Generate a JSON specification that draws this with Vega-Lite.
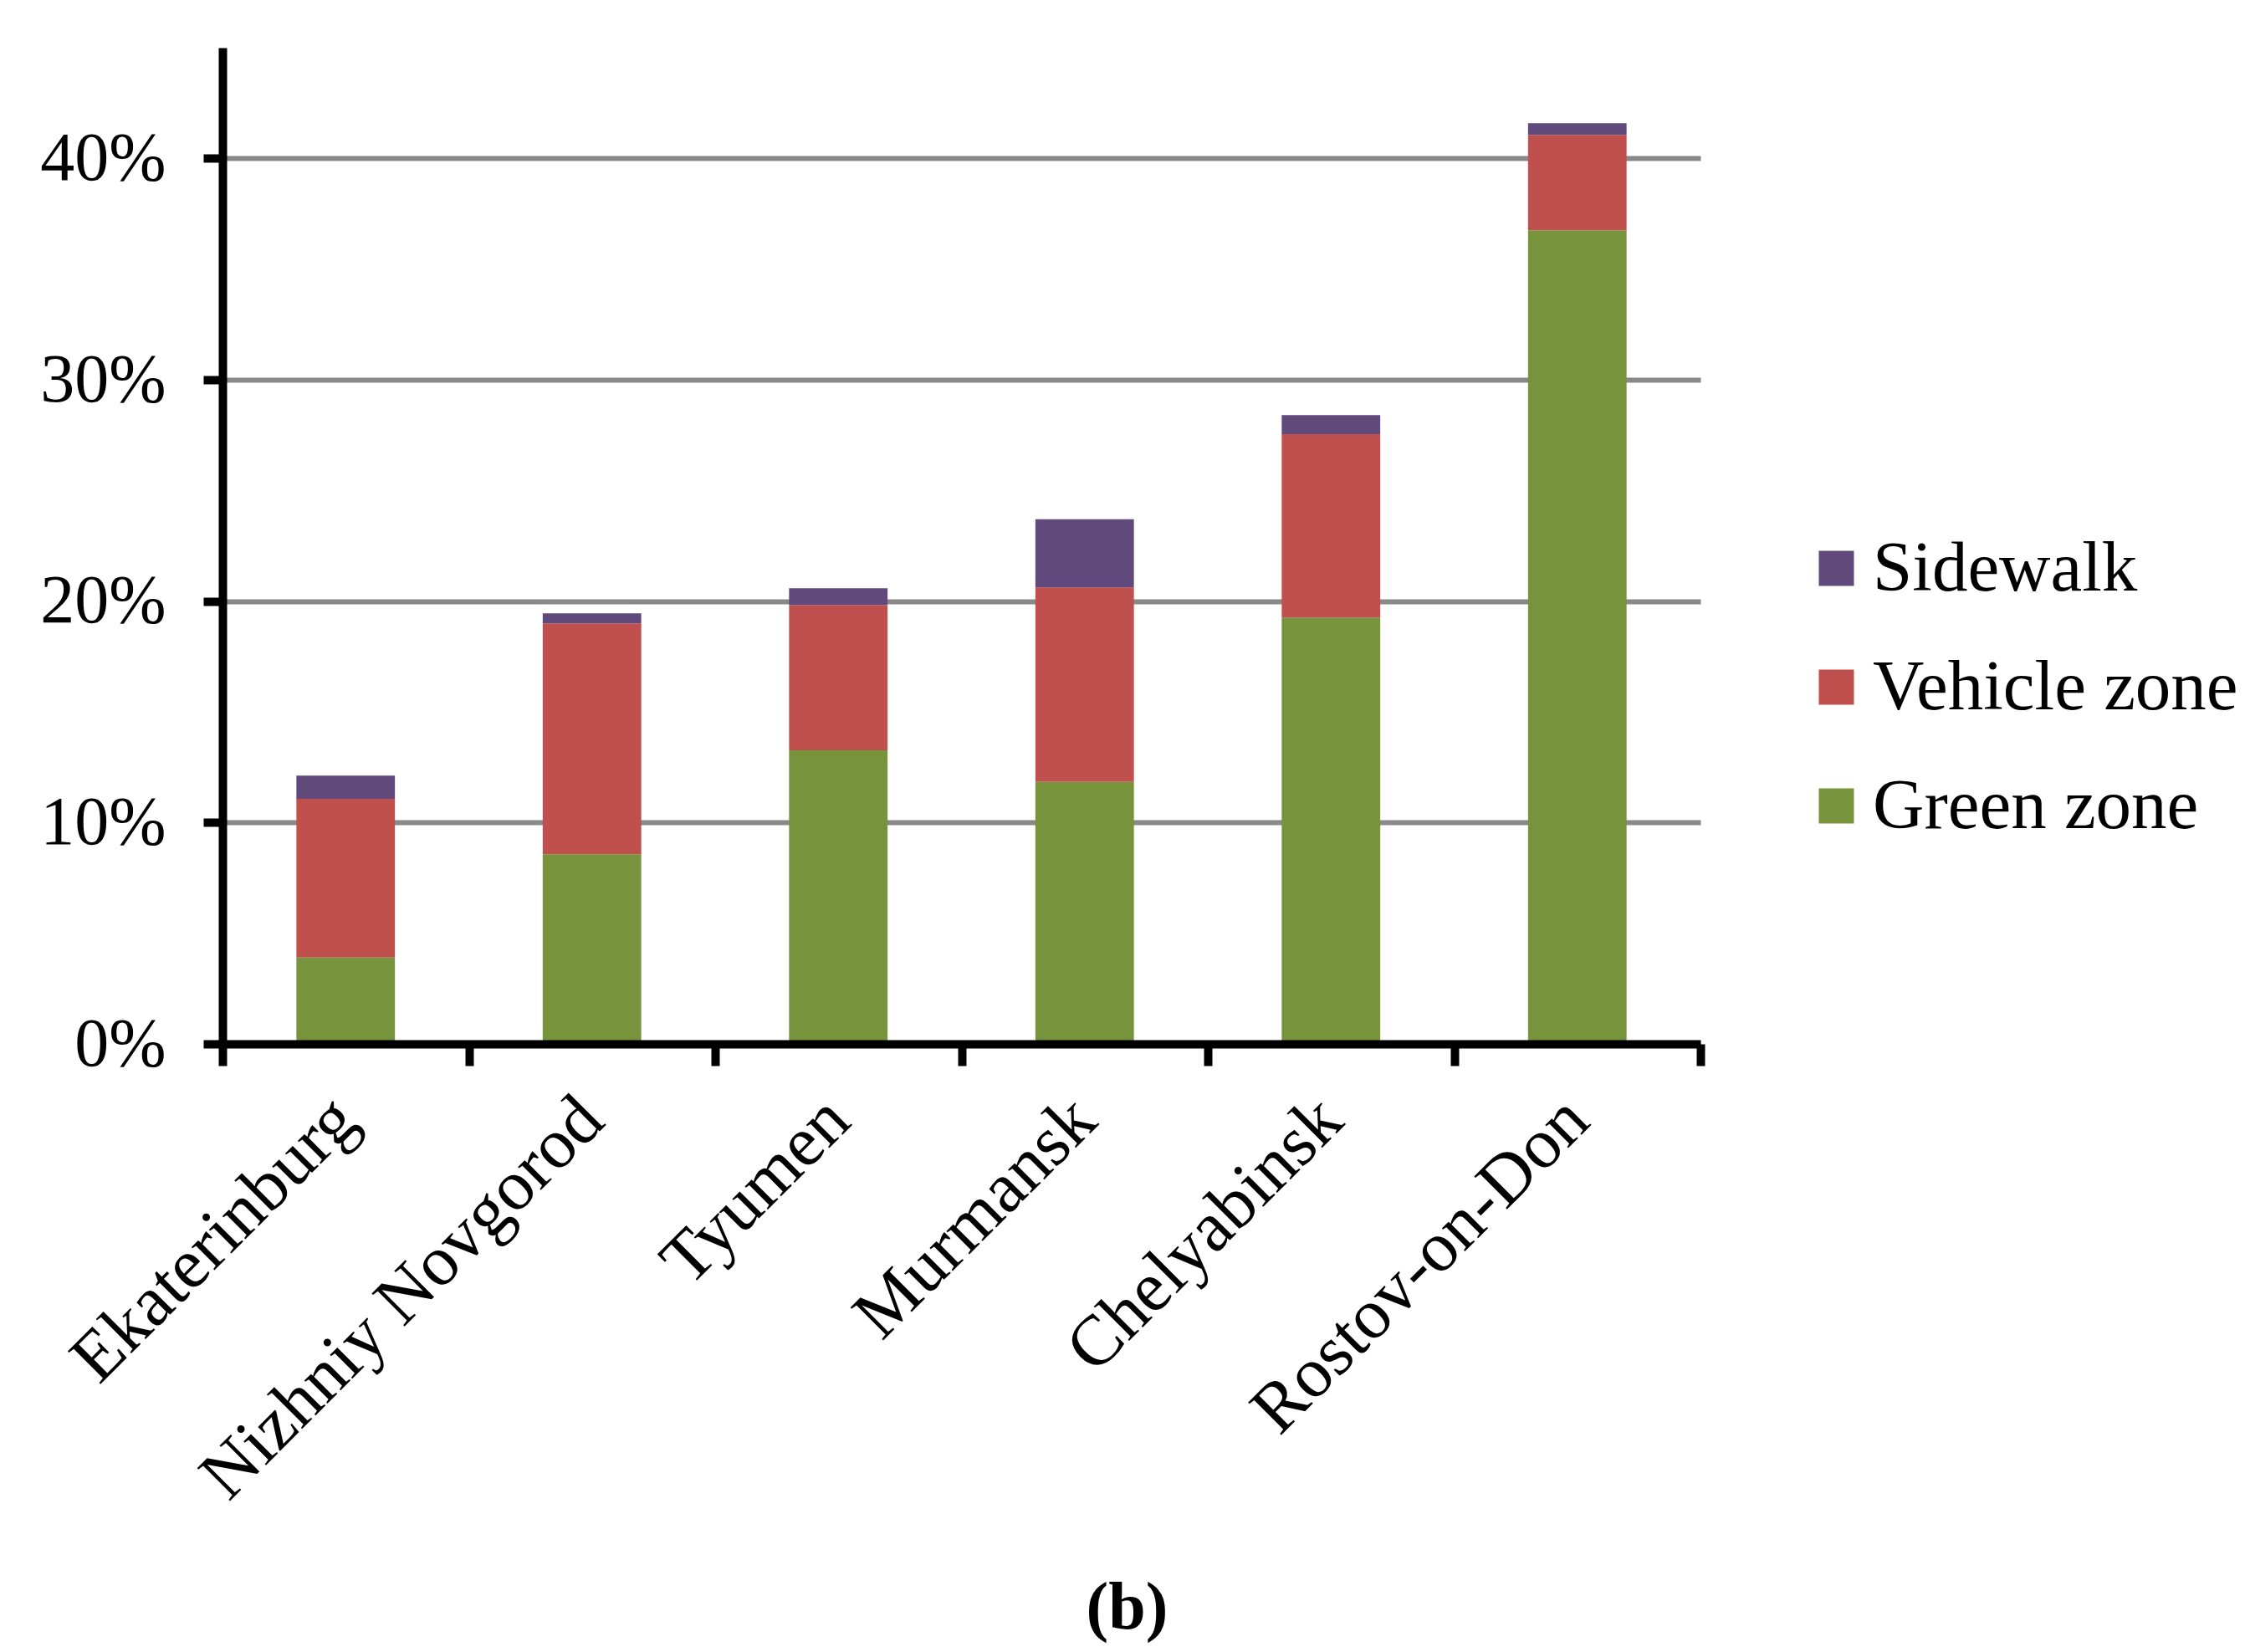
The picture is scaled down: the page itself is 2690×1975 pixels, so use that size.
{
  "$schema": "https://vega.github.io/schema/vega-lite/v6.json",
  "width": 1767,
  "height": 1191,
  "autosize": "none",
  "padding": {"left": 266, "top": 57, "right": 657, "bottom": 727},
  "config": {"font": "Liberation Serif", "view": {"stroke": null}},
  "data": {
    "values": [
      {"city": "Ekaterinburg", "zone": "Green zone", "o": 1, "share": 0.039},
      {"city": "Ekaterinburg", "zone": "Vehicle zone", "o": 2, "share": 0.0717},
      {"city": "Ekaterinburg", "zone": "Sidewalk", "o": 3, "share": 0.0105},
      {"city": "Nizhniy Novgorod", "zone": "Green zone", "o": 1, "share": 0.0857},
      {"city": "Nizhniy Novgorod", "zone": "Vehicle zone", "o": 2, "share": 0.1043},
      {"city": "Nizhniy Novgorod", "zone": "Sidewalk", "o": 3, "share": 0.0045},
      {"city": "Tyumen", "zone": "Green zone", "o": 1, "share": 0.1326},
      {"city": "Tyumen", "zone": "Vehicle zone", "o": 2, "share": 0.0657},
      {"city": "Tyumen", "zone": "Sidewalk", "o": 3, "share": 0.0075},
      {"city": "Murmansk", "zone": "Green zone", "o": 1, "share": 0.1184},
      {"city": "Murmansk", "zone": "Vehicle zone", "o": 2, "share": 0.0878},
      {"city": "Murmansk", "zone": "Sidewalk", "o": 3, "share": 0.0308},
      {"city": "Chelyabinsk", "zone": "Green zone", "o": 1, "share": 0.1926},
      {"city": "Chelyabinsk", "zone": "Vehicle zone", "o": 2, "share": 0.0828},
      {"city": "Chelyabinsk", "zone": "Sidewalk", "o": 3, "share": 0.0086},
      {"city": "Rostov-on-Don", "zone": "Green zone", "o": 1, "share": 0.3675},
      {"city": "Rostov-on-Don", "zone": "Vehicle zone", "o": 2, "share": 0.0431},
      {"city": "Rostov-on-Don", "zone": "Sidewalk", "o": 3, "share": 0.0053}
    ]
  },
  "mark": {"type": "bar", "width": {"band": 0.4}},
  "encoding": {
    "x": {
      "field": "city",
      "type": "nominal",
      "sort": ["Ekaterinburg", "Nizhniy Novgorod", "Tyumen", "Murmansk", "Chelyabinsk", "Rostov-on-Don"],
      "scale": {"paddingInner": 0, "paddingOuter": 0},
      "axis": {
        "tickBand": "extent",
        "grid": false,
        "domainColor": "black",
        "domainWidth": 10,
        "tickColor": "black",
        "tickWidth": 10,
        "tickSize": 26,
        "labelAngle": -45,
        "labelFontSize": 85,
        "labelColor": "black",
        "labelPadding": 22,
        "labelDx": -35,
        "labelOffset": -30,
        "labelLimit": 0,
        "title": "(b)",
        "titleFontSize": 80,
        "titleFontWeight": "bold",
        "titleColor": "black",
        "titleX": 1081,
        "titleY": 698,
        "titleBaseline": "alphabetic",
        "titleAlign": "center",
        "zindex": 1
      }
    },
    "y": {
      "field": "share",
      "type": "quantitative",
      "stack": "zero",
      "scale": {"domain": [0, 0.45], "nice": false},
      "axis": {
        "values": [0, 0.1, 0.2, 0.3, 0.4],
        "format": ".0%",
        "grid": true,
        "gridColor": "#898989",
        "gridWidth": 6,
        "domainColor": "black",
        "domainWidth": 10,
        "tickColor": "black",
        "tickWidth": 10,
        "tickSize": 23,
        "labelFontSize": 82,
        "labelColor": "black",
        "labelPadding": 45,
        "title": null,
        "zindex": 0
      }
    },
    "color": {
      "field": "zone",
      "type": "nominal",
      "scale": {
        "domain": ["Sidewalk", "Vehicle zone", "Green zone"],
        "range": ["#604A7B", "#C0504D", "#77933C"]
      },
      "legend": {
        "title": null,
        "orient": "none",
        "legendX": 1887,
        "legendY": 580,
        "padding": 0,
        "symbolType": "square",
        "symbolSize": 1764,
        "symbolStrokeWidth": 0,
        "labelFontSize": 85,
        "labelColor": "black",
        "labelOffset": 1,
        "labelLimit": 0,
        "rowPadding": 56
      }
    },
    "order": {"field": "o", "type": "quantitative"}
  }
}
